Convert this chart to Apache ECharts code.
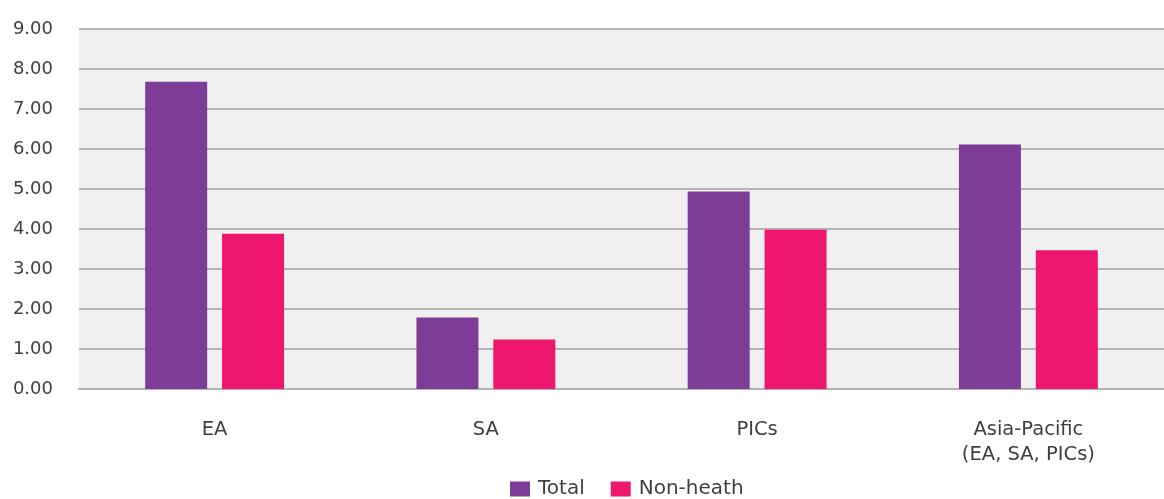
<!DOCTYPE html>
<html>
<head>
<meta charset="utf-8">
<script src="https://cdn.jsdelivr.net/npm/echarts@6/dist/echarts.min.js"></script>
<style>html,body{margin:0;padding:0;background:#fff}#c{width:1164px;height:499px}</style>
</head>
<body>
<div id="c"></div>
<script>
const categories = ['EA', 'SA', 'PICs', 'Asia-Pacific\n(EA, SA, PICs)'];
const totalValues = [7.68, 1.79, 4.94, 6.11];
const nonHealthValues = [3.88, 1.24, 3.98, 3.47];
const seriesNames = ['Total', 'Non-heath'];

const chart = echarts.init(document.getElementById('c'));
const font = '"DejaVu Sans", sans-serif';
chart.setOption({
  animation: false,
  textStyle: { fontFamily: font },
  grid: { left: 79, right: 0, top: 29, bottom: 110, show: true, backgroundColor: '#f0f0f0', borderWidth: 0 },
  legend: {
    data: seriesNames,
    top: 474,
    left: 505,
    itemWidth: 20,
    itemHeight: 15,
    itemGap: 26,
    icon: 'rect',
    textStyle: { fontSize: 20, color: '#404040', fontFamily: font, padding: [0, 0, 0, 3] }
  },
  xAxis: {
    type: 'category',
    data: categories,
    axisLine: { show: true, lineStyle: { color: '#b4b4b4', width: 2 } },
    axisTick: { show: false },
    axisLabel: { fontSize: 19.5, color: '#404040', margin: 28, lineHeight: 25, fontFamily: font }
  },
  yAxis: {
    type: 'value',
    min: 0, max: 9, interval: 1,
    axisLine: { show: false },
    axisTick: { show: false },
    splitLine: { lineStyle: { color: '#b4b4b4', width: 2 } },
    axisLabel: { fontSize: 18, color: '#404040', margin: 26, formatter: v => v.toFixed(2), fontFamily: font }
  },
  series: [
    { name: seriesNames[0], type: 'bar', data: totalValues, barWidth: 62, barGap: '24%', itemStyle: { color: '#7d3c96' } },
    { name: seriesNames[1], type: 'bar', data: nonHealthValues, barWidth: 62, itemStyle: { color: '#ee176d' } }
  ]
});
</script>
</body>
</html>
